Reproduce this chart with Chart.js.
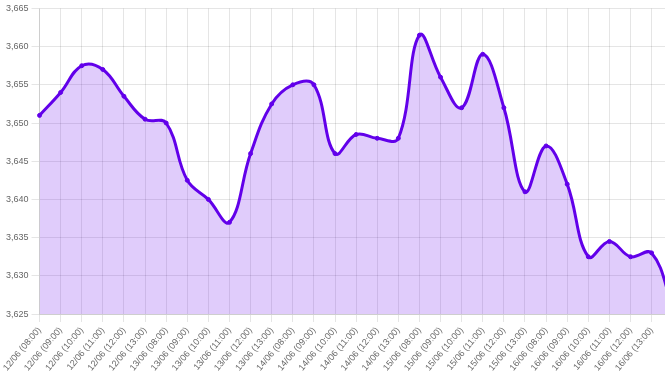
<!DOCTYPE html>
<html>
<head>
<meta charset="utf-8">
<script src="https://cdn.jsdelivr.net/npm/chart.js@4/dist/chart.umd.min.js"></script>
<style>
html,body{margin:0;padding:0;overflow:hidden;background:#fff;width:665px;height:376px;}
#clip{width:665px;height:376px;overflow:hidden;position:relative;}
#c{display:block;position:absolute;left:0;top:0;}
</style>
</head>
<body>
<div id="clip"><canvas id="c" width="684" height="376" style="width:684px;height:376px;"></canvas></div>
<script>
const labels = [
  '12/06 (08:00)','12/06 (09:00)','12/06 (10:00)','12/06 (11:00)','12/06 (12:00)','12/06 (13:00)',
  '13/06 (08:00)','13/06 (09:00)','13/06 (10:00)','13/06 (11:00)','13/06 (12:00)','13/06 (13:00)',
  '14/06 (08:00)','14/06 (09:00)','14/06 (10:00)','14/06 (11:00)','14/06 (12:00)','14/06 (13:00)',
  '15/06 (08:00)','15/06 (09:00)','15/06 (10:00)','15/06 (11:00)','15/06 (12:00)','15/06 (13:00)',
  '16/06 (08:00)','16/06 (09:00)','16/06 (10:00)','16/06 (11:00)','16/06 (12:00)','16/06 (13:00)',
  ''
];
const values = [
  3651, 3654, 3657.5, 3657, 3653.5, 3650.5,
  3650, 3642.5, 3640, 3637, 3646, 3652.5,
  3655, 3655, 3646, 3648.5, 3648, 3648,
  3661.5, 3656, 3652, 3659, 3652, 3641,
  3647, 3642, 3632.5, 3634.5, 3632.5, 3633,
  3626
];
const yMin = 3625, yMax = 3665, yStep = 5;

const tickFont = { family: 'Liberation Sans, Arial, sans-serif', size: 9 };

new Chart(document.getElementById('c'), {
  type: 'line',
  data: {
    labels: labels,
    datasets: [{
      data: values,
      borderColor: '#6200ea',
      backgroundColor: 'rgba(98,0,234,0.2)',
      fill: true,
      tension: 0.4,
      borderWidth: 3,
      pointRadius: 2,
      pointBorderWidth: 1,
      pointBackgroundColor: '#6200ea',
      pointBorderColor: '#6200ea'
    }]
  },
  options: {
    responsive: false,
    animation: false,
    devicePixelRatio: 1,
    locale: 'en-US',
    plugins: { legend: { display: false }, tooltip: { enabled: false } },
    layout: { padding: { left: 3, right: 0 } },
    scales: {
      x: {
        ticks: {
          minRotation: 50, maxRotation: 50, autoSkip: false,
          color: '#666', font: tickFont
        },
        grid: { color: 'rgba(0,0,0,0.1)' }
      },
      y: {
        min: yMin, max: yMax,
        ticks: { stepSize: yStep, color: '#666', font: tickFont },
        grid: { color: 'rgba(0,0,0,0.1)' }
      }
    }
  }
});
</script>
</body>
</html>
